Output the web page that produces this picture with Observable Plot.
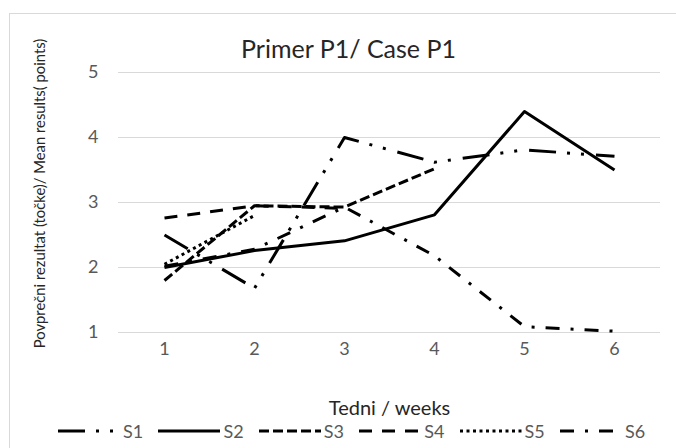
<!DOCTYPE html>
<html>
<head>
<meta charset="utf-8">
<script src="https://cdn.jsdelivr.net/npm/d3@7"></script>
<script src="https://cdn.jsdelivr.net/npm/@observablehq/plot@0.6"></script>
<style>
  html, body { margin: 0; padding: 0; background: #fff; }
  #wrap { position: relative; width: 676px; height: 448px; overflow: hidden; font-family: Lato, "Open Sans", sans-serif; }
  #frame { position: absolute; left: 9px; top: 13px; width: 680px; height: 460px; border-top: 1px solid #d9d9d9; border-left: 1px solid #d9d9d9; }
  #chart { position: absolute; left: 0; top: 0; }
  #legend { position: absolute; left: 0; top: 420px; width: 676px; height: 22px; }
  .item { position: absolute; top: 0; height: 22px; display: flex; align-items: center; }
  .item span { font-size: 18px; color: #595959; margin-left: 3px; line-height: 22px; }
</style>
</head>
<body>
<div id="wrap">
  <div id="frame"></div>
  <div id="chart"></div>
  <div id="legend"></div>
</div>
<script>
// ---- data ----
const weeks = [1, 2, 3, 4, 5, 6];
const seriesNames = ["S1", "S2", "S3", "S4", "S5", "S6"];
const S1 = [2.5, 1.68, 4.0, 3.62, 3.81, 3.71];
const S2 = [2.0, 2.26, 2.41, 2.81, 4.4, 3.5];
const S3 = [1.8, 2.95, 2.93, 3.52, null, null];
const S4 = [2.76, 2.95, 2.91, null, null, null];
const S5 = [2.05, 2.8, null, null, null, null];
const S6 = [2.02, 2.28, 2.93, 2.18, 1.09, 1.02];
const yTicks = [1, 2, 3, 4, 5];
const titleText = "Primer P1/ Case P1";
const xTitle = "Tedni / weeks";
const yTitle = "Povprečni rezultat (točke)/ Mean results( points)";

// ---- styles ----
const dashes = {
  S1: "27 11 3 11 3 12",
  S2: null,
  S3: "10 4",
  S4: "13 10",
  S5: "3 3.5",
  S6: "14 11 3 11"
};
const seriesValues = { S1, S2, S3, S4, S5, S6 };

const rows = seriesNames.flatMap(s =>
  weeks.map((w, i) => ({ series: s, week: w, value: seriesValues[s][i] }))
).filter(d => d.value != null);

const W = 676, H = 448;
const mL = 118, mR = 16, mT = 72, mB = 116;

const lineMarks = seriesNames.map(s =>
  Plot.line(rows.filter(d => d.series === s), {
    x: "week", y: "value",
    stroke: "#000", strokeWidth: 3,
    strokeDasharray: dashes[s] || undefined,
    strokeLinejoin: "round", strokeLinecap: "butt"
  })
);

const chart = Plot.plot({
  width: W, height: H,
  marginLeft: mL, marginRight: mR, marginTop: mT, marginBottom: mB,
  style: { fontFamily: "Lato, 'Open Sans', sans-serif", fontSize: "18px", color: "#595959", background: "transparent", overflow: "visible" },
  x: { type: "point", domain: weeks, padding: 0.5, align: 0.5 },
  y: { domain: [1, 5] },
  marks: [
    Plot.gridY(yTicks, { stroke: "#d9d9d9", strokeOpacity: 1, strokeWidth: 1 }),
    Plot.ruleY([1], { stroke: "#d9d9d9", strokeWidth: 1 }),
    Plot.axisY(yTicks, { tickSize: 0, tickPadding: 20, label: null, fontSize: 18, color: "#595959", tickFormat: d => String(d) }),
    Plot.axisX(weeks, { tickSize: 0, tickPadding: 10, label: null, fontSize: 18, color: "#595959", tickFormat: d => String(d) }),
    ...lineMarks,
    Plot.text([titleText], { frameAnchor: "top-left", dx: 348 - mL, dy: 57 - mT, textAnchor: "middle", lineAnchor: "bottom", fontSize: 25, fill: "#262626" }),
    Plot.text([xTitle], { frameAnchor: "bottom-left", dx: 389 - mL, dy: 414 - (H - mB), textAnchor: "middle", lineAnchor: "bottom", fontSize: 20, fill: "#262626" }),
    Plot.text([yTitle], { frameAnchor: "left", dx: 40 - mL, dy: 193 - (mT + (H - mT - mB) / 2), textAnchor: "middle", lineAnchor: "middle", rotate: -90, fontSize: 14.8, fill: "#262626" })
  ]
});
document.getElementById("chart").appendChild(chart);

// ---- legend ----
const legend = d3.select("#legend");
seriesNames.forEach((s, i) => {
  const item = legend.append("div").attr("class", "item").style("left", (58 + 100.4 * i) + "px");
  const svg = item.append("svg").attr("width", 62).attr("height", 22);
  svg.append("line")
    .attr("x1", 0).attr("x2", 62).attr("y1", 11).attr("y2", 11)
    .attr("stroke", "#000").attr("stroke-width", 3)
    .attr("stroke-dasharray", dashes[s] || null);
  item.append("span").text(s);
});
</script>
</body>
</html>
